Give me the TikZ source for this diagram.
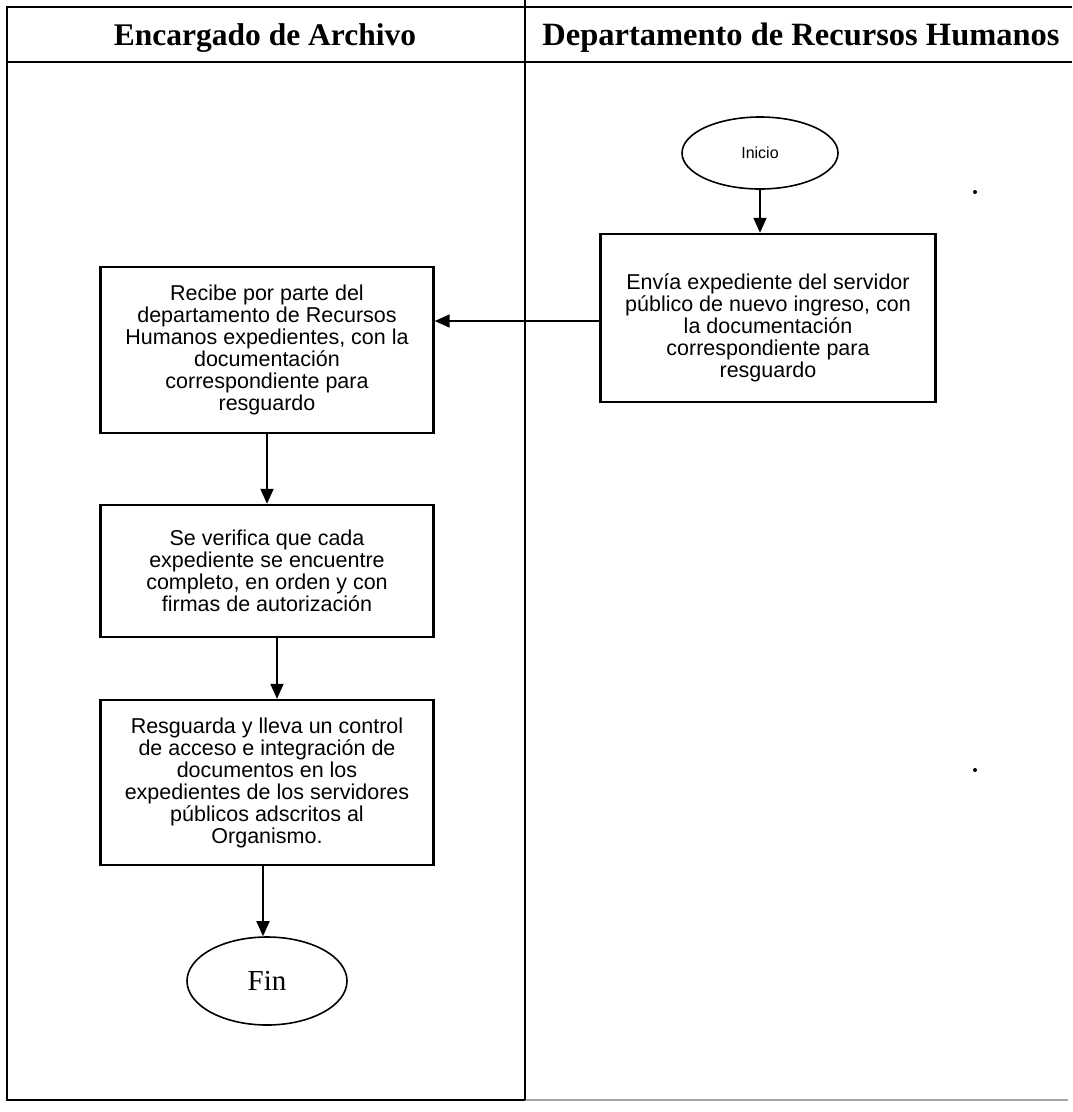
\documentclass[tikz,border=0pt]{standalone}
\usepackage{fontspec}
\setmainfont{Liberation Serif}
\newfontfamily\boxfont{Liberation Sans}
\usetikzlibrary{shapes.geometric, arrows.meta, positioning, calc}

\tikzset{
  proc/.style={draw, line width=2.4pt, minimum width=333pt, minimum height=166pt,
    inner sep=0pt, align=center, font=\boxfont\fontsize{21.5}{22}\selectfont},
  term/.style={draw, ellipse, line width=1.6pt, inner sep=0pt},
  flow/.style={line width=1.8pt, -{Triangle[length=15pt,width=13pt]}},
  lane/.style={line width=1.6pt},
  lanetitle/.style={font=\fontsize{31.5}{34}\selectfont\bfseries}
}

\begin{document}
\begin{tikzpicture}[x=1pt, y=-1pt]
    \useasboundingbox (0,0) rectangle (1072,1112);
    % carriles
    \draw[lane] (1072,7) -- (7,7) -- (7,1100) -- (525,1100);
    \draw[lane, black!35] (525,1100) -- (1068,1100);
    \draw[lane] (525,0) -- (525,1100);
    \draw[lane] (7,62) -- (1072,62);
    \node[lanetitle] (hdrArchivo) at (265,38) {Encargado de Archivo};
    \node[lanetitle, font=\fontsize{32.5}{34}\selectfont\bfseries] (hdrRH) at (801,38) {Departamento de Recursos Humanos};

    % Recursos Humanos
    \node[term, minimum width=156pt, minimum height=72pt, font=\boxfont\fontsize{16}{18}\selectfont] (inicio) at (760,153) {Inicio};
    \node[proc, minimum width=335pt, minimum height=168pt] (envia) at (768,318)
        {\rule{0pt}{36pt}Envía expediente del servidor\\ público de nuevo ingreso, con\\ la documentación\\ correspondiente para\\ resguardo};

    % Archivo
    \node[proc] (recibe) at (267,350)
        {Recibe por parte del\\ departamento de Recursos\\ Humanos expedientes, con la\\ documentación\\ correspondiente para\\ resguardo};
    \node[proc, minimum height=132pt] (verifica) at (267,571)
        {Se verifica que cada\\ expediente se encuentre\\ completo, en orden y con\\ firmas de autorización};
    \node[proc, minimum height=165pt] (resguarda) at (267,782.5)
        {Resguarda y lleva un control\\ de acceso e integración de\\ documentos en los\\ expedientes de los servidores\\ públicos adscritos al\\ Organismo.};
    \node[term, minimum width=160pt, minimum height=88pt, font=\fontsize{29}{30}\selectfont] (fin) at (267,981) {Fin};

    % flechas
    \draw[flow] (inicio.south) -- (inicio.south |- envia.north);
    \draw[flow] ([yshift=-3pt]envia.west) -- ([yshift=-3pt]envia.west -| recibe.east);
    \draw[flow] (recibe.south) -- (verifica.north);
    \draw[flow] ([xshift=10pt]verifica.south) -- ([xshift=10pt]resguarda.north);
    \draw[flow] ([xshift=-4pt]resguarda.south) -- ([xshift=-4pt]resguarda.south |- fin.north);

    % puntos sueltos
    \fill (975,192) circle (2pt);
    \fill (975,770) circle (2pt);
\end{tikzpicture}
\end{document}
